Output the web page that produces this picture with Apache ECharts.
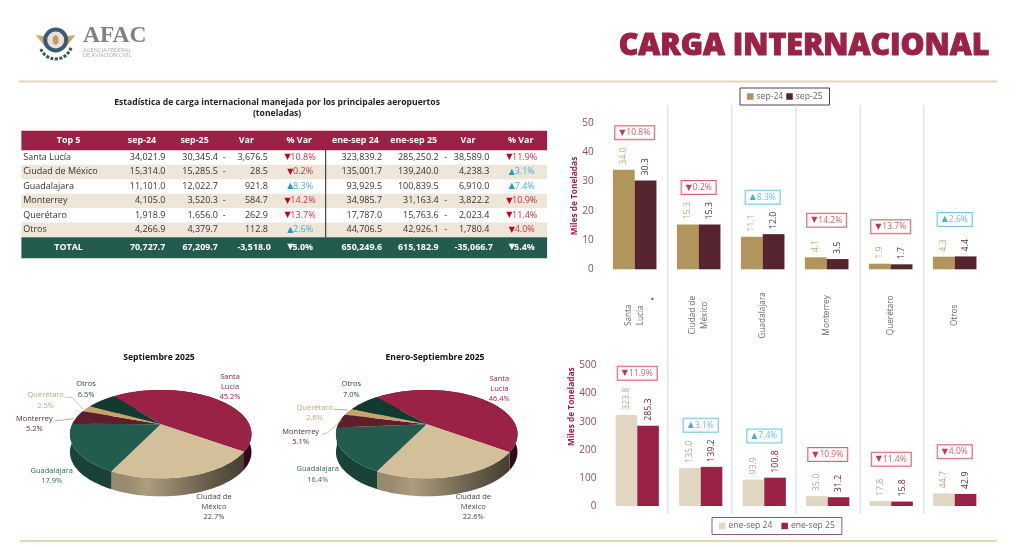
<!DOCTYPE html>
<html><head><meta charset="utf-8">
<style>html,body{margin:0;padding:0;background:#fff}#c{width:1024px;height:547px}</style>
<script src="https://cdn.jsdelivr.net/npm/echarts@6/dist/echarts.min.js"></script>
</head><body><div id="c"></div>
<script>
// ---------- data ----------
const airports = ['Santa Lucía','Ciudad de México','Guadalajara','Monterrey','Querétaro','Otros'];
const tableHeaders = ['Top 5','sep-24','sep-25','Var','% Var','ene-sep 24','ene-sep 25','Var','% Var'];
const sep24 = [34021.9,15314.0,11101.0,4105.0,1918.9,4266.9];
const sep25 = [30345.4,15285.5,12022.7,3520.3,1656.0,4379.7];
const varSep = [-3676.5,-28.5,921.8,-584.7,-262.9,112.8];
const pctSep = [-10.8,-0.2,8.3,-14.2,-13.7,2.6];
const ene24 = [323839.2,135001.7,93929.5,34985.7,17787.0,44706.5];
const ene25 = [285250.2,139240.0,100839.5,31163.4,15763.6,42926.1];
const varEne = [-38589.0,4238.3,6910.0,-3822.2,-2023.4,-1780.4];
const pctEne = [-11.9,3.1,7.4,-10.9,-11.4,-4.0];
const totals = [70727.7,67209.7,-3518.0,-5.0,650249.6,615182.9,-35066.7,-5.4];

const barCats = ['Santa\nLucía','Ciudad de\nMéxico','Guadalajara','Monterrey','Querétaro','Otros'];
const barSep24 = [34.0,15.3,11.1,4.1,1.9,4.3];
const barSep25 = [30.3,15.3,12.0,3.5,1.7,4.4];
const barEne24 = [323.8,135.0,93.9,35.0,17.8,44.7];
const barEne25 = [285.3,139.2,100.8,31.2,15.8,42.9];

const pieSep = [45.2,22.7,17.9,5.2,2.5,6.5];
const pieEne = [46.4,22.6,16.4,5.1,2.6,7.0];
const pieNames = ['Santa\nLucía','Ciudad de\nMéxico','Guadalajara','Monterrey','Querétaro','Otros'];

// ---------- style ----------
const FF = '"Open Sans"';
const CRIMSON='#9B2247', GREEN='#235B4E', RULE='#E3D4BA', BAND='#EDE6D9';
const pieColors=['#9B2247','#D3C09A','#235B4E','#5E1E2C','#C6A46B','#123A30'];
const pieLabelColors=['#9B2247','#444444','#2F6B5C','#5A2A3A','#C0A678','#2E4A42'];
const els=[];
const T=(x,y,text,o={})=>els.push({type:'text',z:10,silent:true,style:{x,y,text,
  font:`${o.w||'normal'} ${o.s||9}px ${o.f||FF}`,fill:o.c||'#333',align:o.a||'center',verticalAlign:'middle',lineHeight:o.lh,
  stroke:o.st,lineWidth:o.sw}});
const R=(x,y,w,h,fill,z=1)=>els.push({type:'rect',z,silent:true,shape:{x,y,width:w,height:h},style:{fill}});
const L=(pts,stroke,lw=1)=>els.push({type:'polyline',z:9,silent:true,shape:{points:pts},style:{stroke,lineWidth:lw,fill:'none'}});
const fmt=v=>Math.abs(v).toLocaleString('en-US',{minimumFractionDigits:1,maximumFractionDigits:1});

// ---------- page furniture ----------
L([[19,81.5],[997,81.5]],RULE,2); L([[20,541],[997,541]],RULE,2);
// logo
const logoC=[55.7,40];
els.push({type:'polygon',z:2,silent:true,shape:{points:[[35.7,35],[50,37],[51,47],[44,45]]},style:{fill:'#C9A86A'}});
els.push({type:'polygon',z:2,silent:true,shape:{points:[[75.7,35],[61.4,37],[60.4,47],[67.4,45]]},style:{fill:'#C9A86A'}});
els.push({type:'circle',z:3,silent:true,shape:{cx:logoC[0],cy:logoC[1],r:12.5},style:{fill:'#3A5A78'}});
els.push({type:'circle',z:4,silent:true,shape:{cx:logoC[0],cy:logoC[1],r:8.5},style:{fill:'#E9E2D2'}});
els.push({type:'ellipse',z:5,silent:true,shape:{cx:logoC[0],cy:logoC[1],rx:3,ry:5},style:{fill:'#C49A6C'}});
els.push({type:'arc',z:3,silent:true,shape:{cx:logoC[0],cy:logoC[1]+3,r:16,startAngle:0.3,endAngle:2.85},style:{stroke:'#3C5A50',lineWidth:3,lineDash:[3,1.5],fill:'none'}});
T(83,35.5,'AFAC',{a:'left',s:23.5,w:'bold',f:'"Liberation Serif"',c:'#808085'});
T(83,50,'AGENCIA FEDERAL',{a:'left',s:5.6,c:'#ABABAB'});
T(83,55,'DE AVIACIÓN CIVIL',{a:'left',s:5.6,c:'#ABABAB'});
T(804,46,'CARGA INTERNACIONAL',{s:30.2,w:800,c:CRIMSON,st:CRIMSON,sw:1});

// ---------- table ----------
const TX=21.4,TW=525.7;
T(277.1,103,'Estadística de carga internacional manejada por los principales aeropuertos',{s:8.6,w:'bold',c:'#222'});
T(277.1,113.5,'(toneladas)',{s:8.6,w:'bold',c:'#222'});
R(TX,130.7,TW,19.6,CRIMSON);
R(TX,237.3,TW,21,GREEN);
[1,3,5].forEach(i=>R(TX,150.3+14.45*i,TW,14.45,BAND));
const headX=[68.6,142,194.6,246.4,299.3,355.4,413.6,468,520.7];
tableHeaders.forEach((h,i)=>T(headX[i],140,h,{s:8.9,w:'bold',c:'#fff'}));
const pctCell=(cx,y,v,sz,white)=>{
  const down=v<0, big=Math.abs(v)>=10, xr=cx+(big?15.9:13.4), col=white?'#fff':(down?'#C9334F':'#45B4CF');
  T(xr,y,Math.abs(v).toFixed(1)+'%',{a:'right',s:sz,c:col,w:white?'bold':'normal'});
  T(xr-(big?25:19.8),y,down?'▼':'▲',{a:'right',s:8,f:'"DejaVu Sans"',c:white?'#fff':(down?'#C00020':'#1E9CC8')});
};
const C={s24:165.4,s25:217.9,dS:224.3,vS:267.9,pS:299.7,e24:382.1,e25:438.6,dE:445.7,vE:489.3,pE:521.4};
airports.forEach((n,i)=>{
  const y=157.4+14.45*i;
  T(23.2,y,n,{a:'left',s:9,c:'#333'});
  T(C.s24,y,fmt(sep24[i]),{a:'right',s:9});
  T(C.s25,y,fmt(sep25[i]),{a:'right',s:9});
  if(varSep[i]<0)T(C.dS,y,'-',{s:9});
  T(C.vS,y,fmt(varSep[i]),{a:'right',s:9});
  pctCell(C.pS,y,pctSep[i],9);
  T(C.e24,y,fmt(ene24[i]),{a:'right',s:9});
  T(C.e25,y,fmt(ene25[i]),{a:'right',s:9});
  if(varEne[i]<0)T(C.dE,y,'-',{s:9});
  T(C.vE,y,fmt(varEne[i]),{a:'right',s:9});
  pctCell(C.pE,y,pctEne[i],9);
});
L([[325.7,150],[325.7,237.3]],'#222',1);
const ty=247.4;
T(68.6,ty,'TOTAL',{s:8.9,w:'bold',c:'#fff'});
[[C.s24,0],[C.s25,1],[C.e24,4],[C.e25,5]].forEach(([x,i])=>T(x,ty,fmt(totals[i]),{a:'right',s:8.9,w:'bold',c:'#fff'}));
[[270.7,2],[492.9,6]].forEach(([x,i])=>T(x,ty,'-'+fmt(totals[i]),{a:'right',s:8.9,w:'bold',c:'#fff'}));
pctCell(C.pS,ty,totals[3],8.9,true); pctCell(C.pE,ty,totals[7],8.9,true);

// ---------- separators ----------
[667.7,731.7,796,860.3,923.7].forEach(x=>L([[x,105],[x,514]],'#DFE1E3',1.4));
els.push({type:'circle',z:9,silent:true,shape:{cx:652.3,cy:299,r:1},style:{fill:'#C00020'}});

// ---------- pies ----------
T(159,357.3,'Septiembre 2025',{s:8.6,w:'bold',c:'#111'});
T(435,357.3,'Enero-Septiembre 2025',{s:8.6,w:'bold',c:'#111'});
const pieLabelPos=[
 [[230,387],[214,507],[51.7,475.7],[34.3,424],[45.7,400.5],[86,389.5]],
 [[499.3,389],[473.3,507],[317.7,474.3],[300.7,437],[314.7,412.7],[351.3,389.5]]];
[pieSep,pieEne].forEach((d,p)=>d.forEach((v,i)=>{
  const [x,y]=pieLabelPos[p][i];
  T(x,y,pieNames[i]+'\n'+v.toFixed(1)+'%',{s:7.5,c:pieLabelColors[i],lh:10.3});
}));
L([[55,420.3],[61,420.3],[74,418.5]],'#999',.8);
L([[65,397.3],[72,397.3],[83.5,409.5]],'#A9B7C4',.8);
L([[334,409.3],[347.5,410]],'#999',.8);
L([[321.7,434.3],[327,433.3],[341.5,420]],'#C9AE9C',.8);

function shade(h,f){const n=parseInt(h.slice(1),16);
  return '#'+[n>>16,(n>>8)&255,n&255].map(c=>Math.min(255,Math.round(c*f)).toString(16).padStart(2,'0')).join('');}
const K=0.2226,RX=88.5,RY=42,DEPTH=18;
function proj(g,deg){const t=deg*Math.PI/180,u=Math.sin(t),v=Math.cos(t),w=1+K*v;
  return [g.cx+RX*u/w,g.cy-RY*v/w];}
function bounds(data,i,start){const tot=data.reduce((a,b)=>a+b,0);let a=start;
  for(let k=0;k<i;k++)a+=data[k]/tot*360;return [a,a+data[i]/tot*360];}
function arcPts(g,a0,a1){const n=Math.max(2,Math.ceil((a1-a0)/2)),o=[];
  for(let k=0;k<=n;k++)o.push(proj(g,a0+(a1-a0)*k/n));return o;}
function pieSeries(data,g){
  const wall={type:'custom',coordinateSystem:'none',silent:true,z:2,data,renderItem(p,api){
    const i=p.dataIndex,[a0,a1]=bounds(data,i,g.start),top=arcPts(g,a0,a1);
    const pts=top.concat(top.slice().reverse().map(q=>[q[0],q[1]+DEPTH]));
    const c=pieColors[i];
    return {type:'polygon',shape:{points:pts},style:{fill:new echarts.graphic.LinearGradient(g.cx-RX,0,g.cx+RX,0,[
      {offset:0,color:shade(c,.72)},{offset:.3,color:shade(c,.72)},{offset:.42,color:shade(c,.82)},{offset:.75,color:shade(c,.5)},{offset:1,color:shade(c,.3)}],true)}};
  }};
  const top={type:'custom',coordinateSystem:'none',silent:true,z:3,data,renderItem(p,api){
    const i=p.dataIndex,[a0,a1]=bounds(data,i,g.start);
    return {type:'polygon',shape:{points:[[g.cx,g.cy]].concat(arcPts(g,a0,a1))},style:{fill:pieColors[i]}};
  }};
  return [wall,top];
}

// ---------- bars ----------
const badges=(tops,pcts,off)=>tops.map((v,i)=>{const dn=pcts[i]<0;return {value:v,label:{
  show:true,position:'inside',offset:[0,-off],formatter:`{${dn?'d':'u'}|${dn?'▼':'▲'}}{${dn?'r':'b'}|${Math.abs(pcts[i]).toFixed(1)}%}`,
  backgroundColor:'#fff',borderColor:dn?'#CF3B50':'#4FBAD4',borderWidth:1,padding:[2,4,2,4],
  rich:{d:{color:'#C00020',fontSize:8,fontFamily:'"DejaVu Sans"'},u:{color:'#1E9CC8',fontSize:8,fontFamily:'"DejaVu Sans"'},
        r:{color:'#C9334F',fontSize:8.5,fontFamily:FF,padding:[0,0,0,1]},b:{color:'#3FB4CF',fontSize:8.5,fontFamily:FF,padding:[0,0,0,1]}}}};});
const bar=(name,data,color,lab,gi)=>({type:'bar',name,data,xAxisIndex:gi,yAxisIndex:gi,barGap:0,barCategoryGap:'32%',z:3,
  itemStyle:{color},label:{show:true,position:'top',rotate:90,align:'left',verticalAlign:'middle',distance:5,
  formatter:o=>o.value.toFixed(1),color:lab,fontSize:8.8,fontFamily:FF}});
const topOf=(a,b)=>a.map((v,i)=>Math.max(v,b[i]));
const scatter=(d,gi)=>({type:'scatter',data:d,xAxisIndex:gi,yAxisIndex:gi,symbol:'circle',symbolSize:1,itemStyle:{color:'rgba(0,0,0,0)'},z:4,silent:true});
const yAx=(max,interval,gi,pad,gap)=>({type:'value',gridIndex:gi,min:0,max,interval,axisLine:{show:false},axisTick:{show:false},splitLine:{show:false},
  axisLabel:{color:'#8B4A68',fontSize:10,fontFamily:FF,margin:9},
  name:'Miles de Toneladas',nameLocation:'middle',nameGap:gap,nameRotate:90,
  nameTextStyle:{color:CRIMSON,fontSize:8.3,fontWeight:'bold',fontFamily:FF,padding:pad}});
const legend=(data,left,top,bc,gap)=>({data,left,top,padding:[4,7,4,7],itemGap:gap,borderColor:bc,borderWidth:1,borderRadius:0,icon:'rect',itemWidth:6.5,itemHeight:6.5,
  selectedMode:false,textStyle:{color:'#666',fontSize:8.6,fontFamily:FF,padding:[0,0,0,-2]}});

const chart=echarts.init(document.getElementById('c'),null,{renderer:'canvas'});
chart.setOption({
  animation:false,backgroundColor:'#fff',
  legend:[legend(['sep-24','sep-25'],740,88,'#5B3B48',3),legend(['ene-sep 24','ene-sep 25'],712,517.5,'#8D5C77',9)],
  grid:[{left:602.7,top:122.8,width:384,height:146.5},{left:605.5,top:365.5,width:381,height:140.5}],
  xAxis:[
   {type:'category',gridIndex:0,data:barCats,axisLine:{show:false},axisTick:{show:false},
    axisLabel:{interval:0,rotate:90,align:'center',verticalAlign:'middle',margin:46,color:'#666',fontSize:8.2,fontFamily:FF,lineHeight:12}},
   {type:'category',gridIndex:1,data:barCats,axisLine:{show:false},axisTick:{show:false},axisLabel:{show:false}}],
  yAxis:[yAx(50,10,0,[0,0,0,0],19),yAx(500,100,1,[0,0,0,58],23)],
  series:[
   bar('sep-24',barSep24,'#B1955A','#BCAA7E',0),bar('sep-25',barSep25,'#56242C','#5A2A34',0),
   scatter(badges(topOf(barSep24,barSep25),pctSep,37),0),
   bar('ene-sep 24',barEne24,'#E0D6C2','#B4AA92',1),bar('ene-sep 25',barEne25,CRIMSON,'#6E2440',1),
   scatter(badges(topOf(barEne24,barEne25),pctEne,41.7),1),
   ...pieSeries(pieSep,{cx:160.7,cy:424.3,start:-38}),
   ...pieSeries(pieEne,{cx:426.7,cy:424.3,start:-41.5})
  ],
  graphic:{elements:els}
});
</script></body></html>
